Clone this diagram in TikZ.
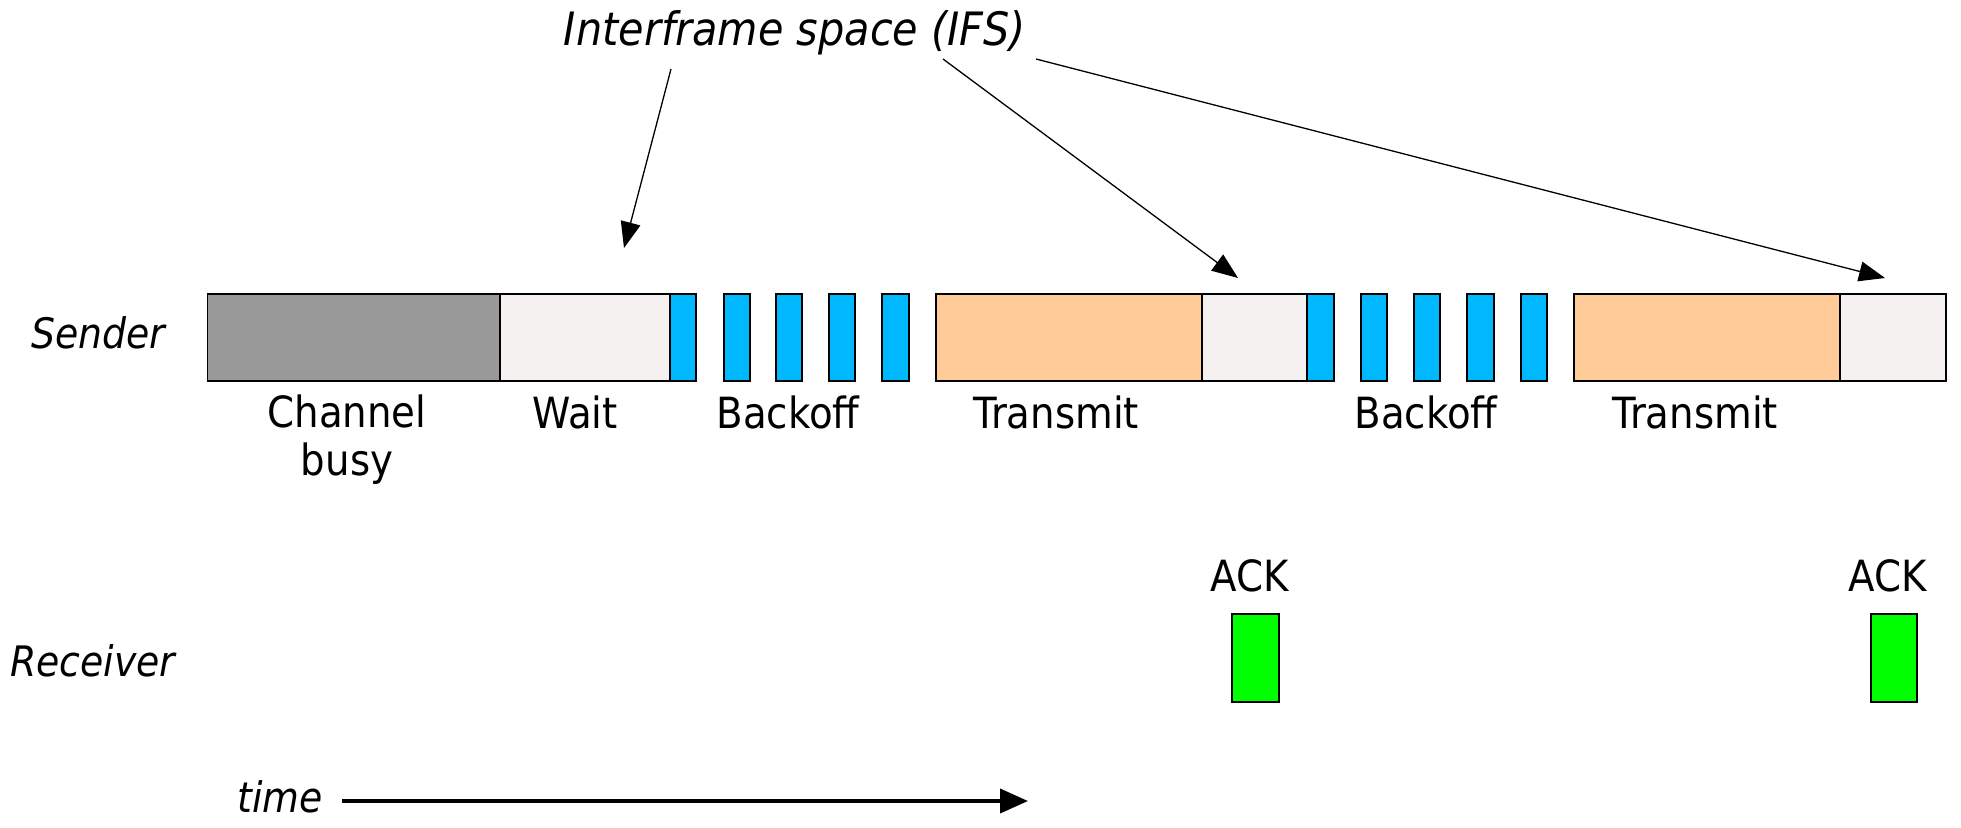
\documentclass[tikz,border=0pt]{standalone}
\usepackage{fontspec}
\setmainfont{DejaVu Sans}[FakeStretch=0.9]
\usetikzlibrary{arrows.meta}

\definecolor{busygray}{HTML}{999999}
\definecolor{idle}{HTML}{F5F1F0}
\definecolor{slotblue}{HTML}{00B8FF}
\definecolor{txorange}{HTML}{FFCC99}
\definecolor{ackgreen}{HTML}{00FF00}

\begin{document}
\begin{tikzpicture}[x=1pt,y=-1pt,
  slot/.style={draw=black, line width=1.2pt, inner sep=0pt, outer sep=0pt,
    anchor=north west, minimum height=87pt},
  ackbox/.style={draw=black, line width=1.2pt, inner sep=0pt, outer sep=0pt,
    anchor=north west, minimum height=88pt, fill=ackgreen},
  lbl/.style={inner sep=0pt, anchor=base, font=\fontsize{43}{48}\selectfont},
  side/.style={inner sep=0pt, anchor=base west, font=\fontsize{42}{48}\selectfont\itshape},
  pointer/.style={line width=1.3pt, -{Triangle[length=26pt,width=20pt]}},
  timeline/.style={line width=4pt, -{Triangle[length=28pt,width=24pt]}}
]
\useasboundingbox (0,0) rectangle (1961,827);

% sender time line
\node[slot, fill=busygray, minimum width=292.5pt] (busy) at (207.5,294) {};
\node[slot, fill=idle,     minimum width=170pt]   (wait) at (500,294) {};
\node[slot, fill=slotblue, minimum width=26pt] (s1) at (670,294) {};
\node[slot, fill=slotblue, minimum width=26pt] (s2) at (724,294) {};
\node[slot, fill=slotblue, minimum width=26pt] (s3) at (776,294) {};
\node[slot, fill=slotblue, minimum width=26pt] (s4) at (829,294) {};
\node[slot, fill=slotblue, minimum width=27pt] (s5) at (882,294) {};
\node[slot, fill=txorange, minimum width=266pt] (tx1) at (936,294) {};
\node[slot, fill=idle,     minimum width=105pt] (ifs1) at (1202,294) {};
\node[slot, fill=slotblue, minimum width=27pt] (s6) at (1307,294) {};
\node[slot, fill=slotblue, minimum width=26pt] (s7) at (1361,294) {};
\node[slot, fill=slotblue, minimum width=26pt] (s8) at (1414,294) {};
\node[slot, fill=slotblue, minimum width=27pt] (s9) at (1467,294) {};
\node[slot, fill=slotblue, minimum width=26pt] (s10) at (1521,294) {};
\node[slot, fill=txorange, minimum width=266pt] (tx2) at (1574,294) {};
\node[slot, fill=idle,     minimum width=106pt] (ifs2) at (1840,294) {};

% phase labels
\node[lbl, anchor=north, align=center] (lbusy) at (347,395) {Channel\\busy};
\node[lbl] (lwait) at (575,428) {Wait};
\node[lbl] (lback1) at (788,428) {Backoff};
\node[lbl] (ltx1) at (1056,428) {Transmit};
\node[lbl] (lback2) at (1426,428) {Backoff};
\node[lbl] (ltx2) at (1695,428) {Transmit};

% receiver acknowledgements
\node[ackbox, minimum width=47pt] (ack1) at (1232,614) {};
\node[ackbox, minimum width=46pt] (ack2) at (1871,614) {};
\node[lbl] (lack1) at (1250,591) {ACK};
\node[lbl] (lack2) at (1888,591) {ACK};

% station names
\node[side] (sender) at (31,348) {Sender};
\node[side] (receiver) at (10,676) {Receiver};

% interframe space callout
\node[inner sep=0pt, anchor=base, font=\fontsize{46}{52}\selectfont\itshape] (ifs) at (795,45) {Interframe space (IFS)};
\coordinate (p1s) at (671,69);
\coordinate (p1e) at (624,248);
\coordinate (p2s) at (943,59);
\coordinate (p2e) at (1238,278);
\coordinate (p3s) at (1036,59);
\coordinate (p3e) at (1885,278);
\draw[pointer] (p1s) -- (p1e);
\draw[pointer] (p2s) -- (p2e);
\draw[pointer] (p3s) -- (p3e);

% time axis
\node[side] (time) at (237,812) {time};
\coordinate (tstart) at (342,801);
\coordinate (tend) at (1028,801);
\draw[timeline] (tstart) -- (tend);
\end{tikzpicture}
\end{document}
